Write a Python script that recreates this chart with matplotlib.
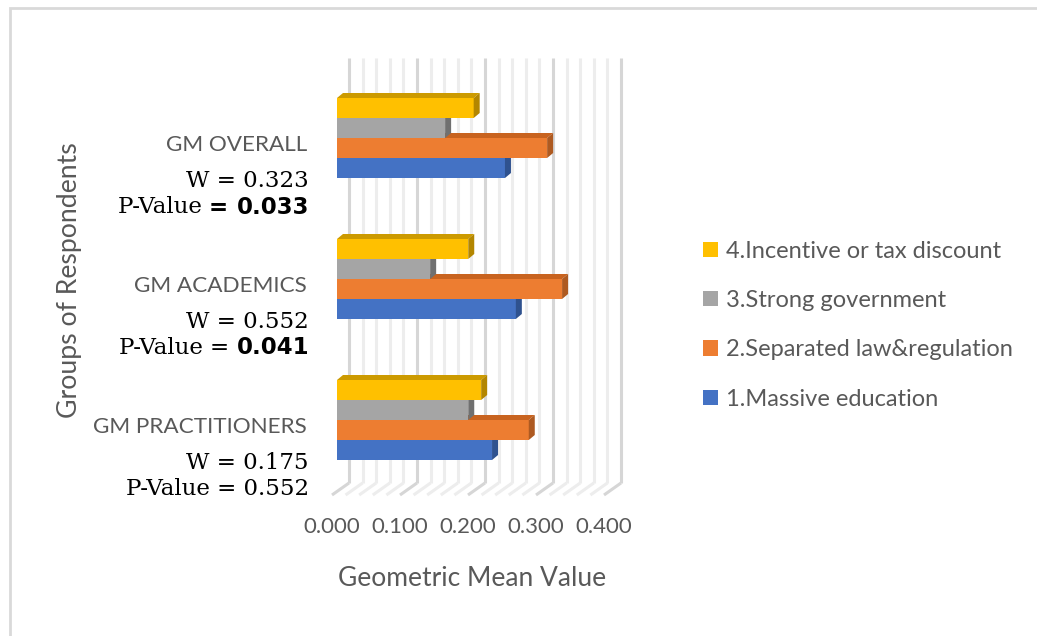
import matplotlib
matplotlib.use("Agg")
import matplotlib.pyplot as plt
from matplotlib.patches import Polygon, Patch, Rectangle
from matplotlib.transforms import ScaledTranslation

# geometric mean values per group (bottom to top on the chart)
groups = ["GM PRACTITIONERS", "GM ACADEMICS", "GM OVERALL"]
w_values = ["0.175", "0.552", "0.323"]
p_values = ["0.552", "0.041", "0.033"]
p_bold = [False, True, True]

series = ["1.Massive education", "2.Separated law&regulation",
          "3.Strong government", "4.Incentive or tax discount"]
massive_edu = [0.228, 0.263, 0.247]
separated_law = [0.282, 0.331, 0.309]
strong_gov = [0.193, 0.137, 0.159]
incentive = [0.212, 0.193, 0.201]
values = [massive_edu, separated_law, strong_gov, incentive]

face = ["#4472C4", "#ED7D31", "#A5A5A5", "#FFC000"]
top_col = ["#3A62AA", "#C8631F", "#8C8C8C", "#CC9A00"]
side_col = ["#2F528F", "#AE5A21", "#707070", "#B38600"]

xticks = [0.0, 0.1, 0.2, 0.3, 0.4]

W, H, DPI = 1037, 636, 100
fig = plt.figure(figsize=(W / DPI, H / DPI), dpi=DPI)

# plot area in pixels: left, right, top, bottom
L, R, T, B = 320, 640, 50, 500
ax = fig.add_axes([L / W, 1 - B / H, (R - L) / W, (B - T) / H])
x0_px = 337          # pixel column of zero on bar front faces
px_per_x = 680.0     # pixels per 1.0 data unit
y0_px = 420          # pixel row of the lowest group centre
px_per_y = 141.0
ax.set_xlim((L - x0_px) / px_per_x, (R - x0_px) / px_per_x)
ax.set_ylim((y0_px - B) / px_per_y, (y0_px - T) / px_per_y)
for s in ax.spines.values():
    s.set_visible(False)

def dx(px):
    return px / px_per_x

def dy(px):
    return px / px_per_y

# back wall and floor grid
wall_top, wall_bot, floor_front = 58, 483, 495
ybt = (y0_px - wall_top) / px_per_y
ybb = (y0_px - wall_bot) / px_per_y
yff = (y0_px - floor_front) / px_per_y
for k in range(21):
    xv = k * 0.02
    major = k % 5 == 0
    col = "#D6D6D6" if major else "#EDEDED"
    ax.plot([xv + dx(12), xv + dx(12)], [ybb, ybt], color=col, lw=2.2, zorder=1,
            solid_capstyle="butt")
    ax.plot([xv - dx(5), xv + dx(12)], [yff, ybb], color=col, lw=2.2, zorder=1,
            solid_capstyle="butt")

# 3d bars, drawn bottom series first so upper bars hide lower top faces
bh = 20 / px_per_y
depth_x, depth_y = dx(6), dy(5)
offsets = [-1.5, -0.5, 0.5, 1.5]
for i, vals in enumerate(values):
    z = 3 + i
    for g, v in enumerate(vals):
        yc = g + offsets[i] * bh
        yb, yt = yc - bh / 2, yc + bh / 2
        ax.barh(yc, v, height=bh, color=face[i], zorder=z, linewidth=0)
        ax.add_patch(Polygon([(0, yt), (depth_x, yt + depth_y),
                              (v + depth_x, yt + depth_y), (v, yt)],
                             closed=True, facecolor=top_col[i], lw=0, zorder=z))
        ax.add_patch(Polygon([(v, yb), (v, yt), (v + depth_x, yt + depth_y),
                              (v + depth_x, yb + depth_y)],
                             closed=True, facecolor=side_col[i], lw=0, zorder=z))

# x tick labels sit on the front edge of the floor
ax.set_xticks(xticks)
ax.set_xticklabels([f"{t:.3f}" for t in xticks], fontsize=16, color="#595959",
                   family="Lato")
ax.tick_params(axis="x", length=0, pad=12)
shift = ScaledTranslation(-5 / DPI, 0, fig.dpi_scale_trans)
for lab in ax.get_xticklabels():
    lab.set_transform(lab.get_transform() + shift)
ax.set_yticks([])

# group labels with W and P-values
lab_x = (307 - x0_px) / px_per_x
num_x = (309 - x0_px) / px_per_x
serif_size = 16.5
for g, name in enumerate(groups):
    ax.text(lab_x, g - dy(7), name, ha="right", va="center", fontsize=16.2,
            color="#595959", family="Lato", clip_on=False)
    ax.text(num_x, g - dy(43), f"W = {w_values[g]}", ha="right", va="center",
            fontsize=serif_size, color="black", family="DejaVu Serif", clip_on=False)
    if p_bold[g]:
        num = ax.text(num_x, g - dy(69), p_values[g], ha="right", va="center",
                      fontsize=16.5, fontweight="bold", family="DejaVu Sans",
                      clip_on=False)
        bold_eq = g == 2
        eq = ax.annotate("= ", xy=(0, 0.5), xycoords=num,
                         ha="right", va="center", fontsize=serif_size,
                         fontweight="bold" if bold_eq else "normal",
                         family="DejaVu Sans" if bold_eq else "DejaVu Serif",
                         annotation_clip=False)
        ax.annotate("P-Value ", xy=(0, 0.5), xycoords=eq, ha="right", va="center",
                    fontsize=serif_size, family="DejaVu Serif", annotation_clip=False)
    else:
        ax.text(num_x, g - dy(69), f"P-Value = {p_values[g]}", ha="right",
                va="center", fontsize=serif_size, family="DejaVu Serif",
                clip_on=False)

# axis titles
fig.text(70 / W, 1 - 280 / H, "Groups of Respondents", rotation=90, ha="center",
         va="center", fontsize=19.2, color="#595959", family="Lato")
fig.text(472 / W, 1 - 578 / H, "Geometric Mean Value", ha="center", va="center",
         fontsize=19, color="#595959", family="Lato")

# legend, top entry is the last series
handles = [Patch(facecolor=face[i]) for i in range(3, -1, -1)]
labels = [series[i] for i in range(3, -1, -1)]
fig.legend(handles, labels, loc="center left",
           bbox_to_anchor=(703 / W, 1 - 325 / H), frameon=False,
           prop={"family": "Lato", "size": 17}, labelcolor="#595959",
           handlelength=0.62, handleheight=0.62, handletextpad=0.35,
           labelspacing=1.2, borderpad=0, borderaxespad=0)

# chart frame
fig.add_artist(Rectangle((10 / W, -0.2), 1.2, 1.2 - 8 / H, transform=fig.transFigure,
                         fill=False, edgecolor="#D9D9D9", lw=2))

fig.savefig("out.png", dpi=DPI)
